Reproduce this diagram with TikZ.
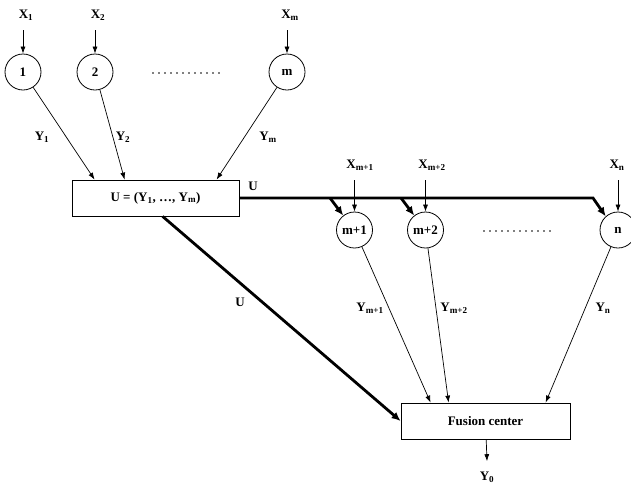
\documentclass[tikz,border=0pt]{standalone}
\usepackage{fontspec}
\setmainfont{Liberation Serif}
\usetikzlibrary{positioning,calc,arrows.meta}
\newcommand\lo[1]{\textsubscript{#1}}

\begin{document}
\begin{tikzpicture}[x=1pt,y=-1pt,font=\bfseries\fontsize{13}{15}\selectfont]
      \tikzstyle{sensor} = [draw,circle,minimum size=36pt,inner sep=0pt,line width=0.8pt]
      \tikzstyle{box} = [draw,rectangle,inner sep=0pt,line width=0.8pt]
      \tikzstyle{thin} = [-{Latex[length=7pt,width=5pt]},line width=0.7pt]
      \tikzstyle{bus} = [-{Latex[length=9pt,width=8pt]},line width=2.8pt]
      \useasboundingbox (0,0) rectangle (631,485);
      % first group of sensors
      \foreach \a/\x in {1/23,2/95,m/287}{
        \node[sensor] (s\a) at (\x,72) {\a};
        \node (x\a) at (\x+3,15) {X\lo{\a}};
        \draw[thin] ($(s\a |- x\a)+(0,15)$) -- (s\a);
      }
      \foreach \i in {0,...,11} \fill (153+\i*6,73) circle (0.8);
      \node[box,minimum width=167pt,minimum height=36pt] (U) at (155.5,198) {U = (Y\lo{1}, \dots, Y\lo{m})};
      \draw[thin] (s1) -- ([xshift=23pt]U.north west);
      \draw[thin] (s2) -- ([xshift=53pt]U.north west);
      \draw[thin] (sm) -- ([xshift=145pt]U.north west);
      \node at (42,137) {Y\lo{1}};
      \node at (123,137) {Y\lo{2}};
      \node at (268,137) {Y\lo{m}};
      % second group of sensors
      \foreach \a/\b/\x/\l in {a/m+1/354.5/360,b/m+2/425.5/432,n/n/618/617}{
        \node[sensor] (s\a) at (\x,230) {\b};
        \node (x\a) at (\l,165) {X\lo{\b}};
        \draw[thin] ($(s\a |- x\a)+(0,15)$) -- (s\a);
      }
      \foreach \i in {0,...,11} \fill (484+\i*6,231) circle (0.8);
      \node[box,minimum width=169pt,minimum height=36pt] (F) at (485.5,421) {Fusion center};
      % broadcast of U
      \coordinate (ba) at (330,198);
      \coordinate (bb) at (401,198);
      \coordinate (bn) at (593,198);
      \draw[bus] (U.east) -- (bn) -- (sn.132);
      \draw[bus] (ba) -- (sa.128);
      \draw[bus] (bb) -- (sb.128);
      \node at (253,186) {U};
      \draw[bus] ([xshift=91pt]U.south west) -- (F.west);
      \node at (240,302) {U};
      % decisions to the fusion center
      \draw[thin] (sa) -- ([xshift=30pt]F.north west);
      \draw[thin] (sb) -- ([xshift=48pt]F.north west);
      \draw[thin] (sn) -- ([xshift=145pt]F.north west);
      \node at (370,308) {Y\lo{m+1}};
      \node at (454,308) {Y\lo{m+2}};
      \node at (603,308) {Y\lo{n}};
      \node (y0) at (487,477) {Y\lo{0}};
      \draw[thin] (F) -- ([yshift=7pt]y0.north);
\end{tikzpicture}
\end{document}
